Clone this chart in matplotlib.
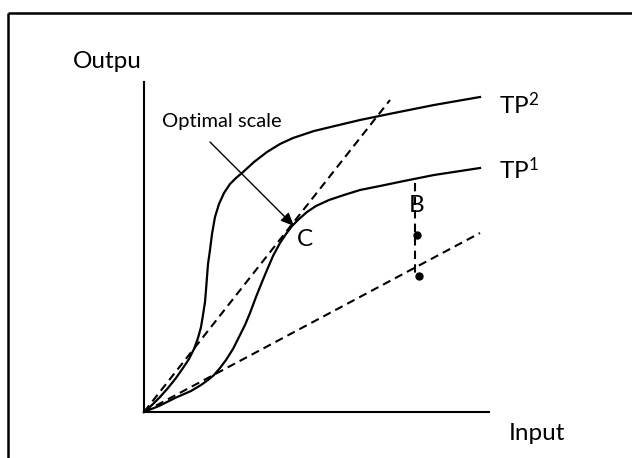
import matplotlib
matplotlib.use("Agg")
import matplotlib.pyplot as plt

plt.rcParams['font.family'] = ['Lato', 'DejaVu Sans']
plt.rcParams['mathtext.fontset'] = 'custom'
plt.rcParams['mathtext.rm'] = 'Lato'
plt.rcParams['mathtext.it'] = 'Lato'

# Production curves (input, output)
tp2_x = [0, 8, 16, 24, 32, 39, 45, 50, 54, 57, 59, 61, 62, 63, 64, 66, 68, 71, 75, 80, 86, 92, 98,
         110, 123, 136, 149, 170, 195, 216, 250, 290, 336]
tp2_y = [0, 7, 15, 24, 34, 44, 53, 63, 74, 85, 97, 110, 122, 135, 148, 162, 178, 195, 208, 219, 228, 234, 239,
         250, 260, 268, 274, 281, 287, 292, 299, 307, 315]

tp1_x = [0, 15, 31, 47, 57, 64, 70, 76, 82, 89, 95, 101, 106, 112, 118, 123, 129, 136, 142, 148, 155, 163, 172,
         185, 200, 216, 236, 260, 290, 336]
tp1_y = [0, 6, 14, 21, 27, 32, 37, 44, 52, 63, 75, 87, 99, 115, 130, 142, 156, 169, 178, 186, 193, 200, 206,
         212, 217, 222, 226, 231, 237, 244]

# Rays from origin
ray_steep_x = [0, 246]
ray_steep_y = [0, 312]
ray_flat_x = [0, 336]
ray_flat_y = [0, 179]

# Point B segment and dots
b_seg_x = [271, 271]
b_seg_y = [229, 137]
dots_x = [273, 275]
dots_y = [177, 136]

# Axes extents
x_axis_end = 345
y_axis_top = 330

fig = plt.figure(figsize=(6.32, 4.58), dpi=100)
ax = fig.add_axes([0, 0, 1, 1])
ax.set_xlim(-144, 488)
ax.set_ylim(-46, 412)
ax.axis('off')

# frame (top and left only visible)
ax.plot([-136, 488], [399, 399], color='black', lw=1.8, solid_capstyle='butt')
ax.plot([-136, -136], [399, -46], color='black', lw=1.8, solid_capstyle='butt')

# axes
ax.plot([0, 0], [0, y_axis_top], color='black', lw=1.5)
ax.plot([0, x_axis_end], [0, 0], color='black', lw=1.5)

ax.plot(tp2_x, tp2_y, color='black', lw=1.6, solid_joinstyle='round')
ax.plot(tp1_x, tp1_y, color='black', lw=1.6, solid_joinstyle='round')

ax.plot(ray_steep_x, ray_steep_y, color='black', lw=1.5, dashes=(4, 2.5))
ax.plot(ray_flat_x, ray_flat_y, color='black', lw=1.5, dashes=(4, 2.5))
ax.plot(b_seg_x, b_seg_y, color='black', lw=1.5, dashes=(4, 2.5))
ax.plot(dots_x, dots_y, 'o', color='black', ms=5, ls='none')

ax.annotate('', xy=(150, 186), xytext=(66, 270),
            arrowprops=dict(arrowstyle='-|>,head_length=0.8,head_width=0.35',
                            color='black', lw=1.0, shrinkA=0, shrinkB=0))

fs = 17.5
ax.text(78, 290, 'Optimal scale', fontsize=14.5, ha='center', va='center')
ax.text(161, 172, 'C', fontsize=fs, ha='center', va='center')
ax.text(273, 207, 'B', fontsize=fs, ha='center', va='center')
ax.text(-71, 350, 'Outpu', fontsize=fs, ha='left', va='center')
ax.text(365, -21, 'Input', fontsize=fs, ha='left', va='center')
ax.text(355, 307, r'TP$^{2}$', fontsize=fs, ha='left', va='center')
ax.text(355, 242, r'TP$^{1}$', fontsize=fs, ha='left', va='center')

fig.savefig('out.png', dpi=100)
